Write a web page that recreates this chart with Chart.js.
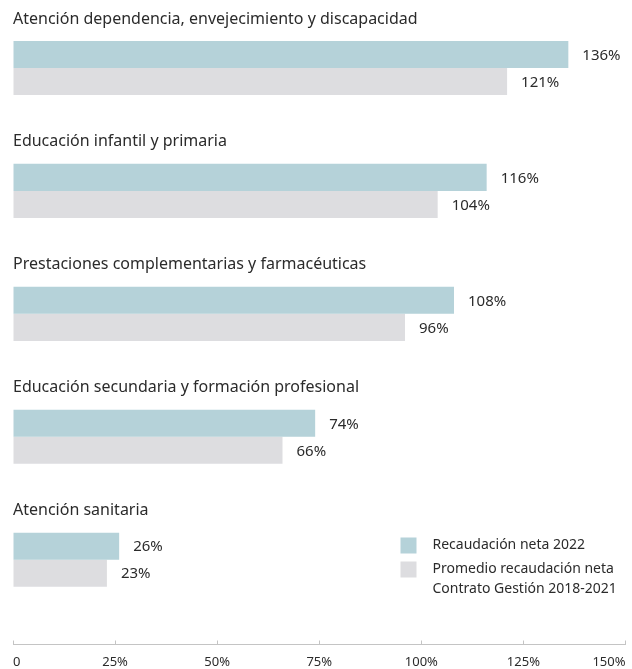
<!DOCTYPE html>
<html lang="es">
<head>
<meta charset="utf-8">
<script src="https://cdn.jsdelivr.net/npm/chart.js@4.4.1/dist/chart.umd.min.js"></script>
<style>
  html, body { margin: 0; padding: 0; background: #fff; }
  #wrap { width: 632px; height: 669px; }
</style>
</head>
<body>
<div id="wrap"><canvas id="grafico"></canvas></div>
<script>
// Categorías de gasto (de arriba abajo)
const categorias = [
    'Atención dependencia, envejecimiento y discapacidad',
    'Educación infantil y primaria',
    'Prestaciones complementarias y farmacéuticas',
    'Educación secundaria y formación profesional',
    'Atención sanitaria'
];
const recaudacion2022 = [136, 116, 108, 74, 26];
const promedio2018_2021 = [121, 104, 96, 66, 23];
const ticksEje = [0, 25, 50, 75, 100, 125, 150];

const etiquetaSerie1 = ['Recaudación neta 2022'];
const etiquetaSerie2 = ['Promedio recaudación neta', 'Contrato Gestión 2018-2021'];

const colorAzul = '#b5d2d9';
const colorGris = '#dddde0';
const colorTexto = '#2b2b2b';

Chart.defaults.font.family = "'Noto Sans', sans-serif";

// Etiquetas con el valor al final de cada barra
const valoresBarras = {
    id: 'valoresBarras',
    afterDatasetsDraw(chart) {
        const ctx = chart.ctx;
        ctx.save();
        ctx.font = '15px "Noto Sans", sans-serif';
        ctx.fillStyle = colorTexto;
        ctx.textAlign = 'left';
        ctx.textBaseline = 'middle';
        chart.data.datasets.forEach((ds, i) => {
            chart.getDatasetMeta(i).data.forEach((bar, j) => {
                ctx.fillText(ds.data[j].x + '%', bar.x + 14, bar.y + 1);
            });
        });
        ctx.restore();
    }
};

// Leyenda abajo a la derecha, dentro del área del gráfico
const leyenda = {
    id: 'leyenda',
    afterDraw(chart) {
        const ctx = chart.ctx;
        const area = chart.chartArea;
        const x = area.right - 225;
        let y = area.bottom - 107;
        ctx.save();
        ctx.font = '14px "Noto Sans", sans-serif';
        ctx.textAlign = 'left';
        ctx.textBaseline = 'middle';
        chart.data.datasets.forEach(ds => {
            ctx.fillStyle = ds.backgroundColor;
            ctx.fillRect(x, y, 16, 16);
            ctx.fillStyle = colorTexto;
            ds.label.forEach((linea, k) => {
                ctx.fillText(linea, x + 32, y + 8 + k * 20);
            });
            y += 24;
        });
        ctx.restore();
    }
};

const ctx = document.getElementById('grafico').getContext('2d');
new Chart(ctx, {
    type: 'bar',
    data: {
        datasets: [
            {
                label: etiquetaSerie1,
                data: recaudacion2022.map((v, i) => ({ x: v, y: i })),
                backgroundColor: colorAzul
            },
            {
                label: etiquetaSerie2,
                data: promedio2018_2021.map((v, i) => ({ x: v, y: i })),
                backgroundColor: colorGris
            }
        ]
    },
    options: {
        indexAxis: 'y',
        responsive: true,
        maintainAspectRatio: false,
        animation: false,
        categoryPercentage: 0.44,
        barPercentage: 1,
        layout: { padding: { top: 6, left: 13, right: 6.5, bottom: 0 } },
        plugins: {
            legend: { display: false },
            tooltip: { enabled: false }
        },
        scales: {
            x: {
                min: 0,
                max: 150,
                afterBuildTicks: s => { s.ticks = ticksEje.map(v => ({ value: v })); },
                afterFit: s => {
                    s.height = 24.5;
                    s.paddingLeft = 0;
                    s.paddingRight = 0;
                },
                grid: { drawOnChartArea: false, tickLength: -4, tickColor: '#c4c4c4' },
                border: { color: '#c4c4c4' },
                ticks: {
                    align: 'inner',
                    padding: 14,
                    color: colorTexto,
                    font: { size: 13 },
                    callback: v => v === 0 ? '0' : v + '%'
                }
            },
            y: {
                type: 'linear',
                reverse: true,
                offset: false,
                min: -0.475,
                max: 4.69,
                afterBuildTicks: s => { s.ticks = categorias.map((c, i) => ({ value: i })); },
                grid: { display: false, drawTicks: false },
                border: { display: false },
                ticks: {
                    mirror: true,
                    padding: 0,
                    labelOffset: -49,
                    color: colorTexto,
                    font: { size: 16 },
                    callback: v => categorias[v]
                }
            }
        }
    },
    plugins: [valoresBarras, leyenda]
});
</script>
</body>
</html>
